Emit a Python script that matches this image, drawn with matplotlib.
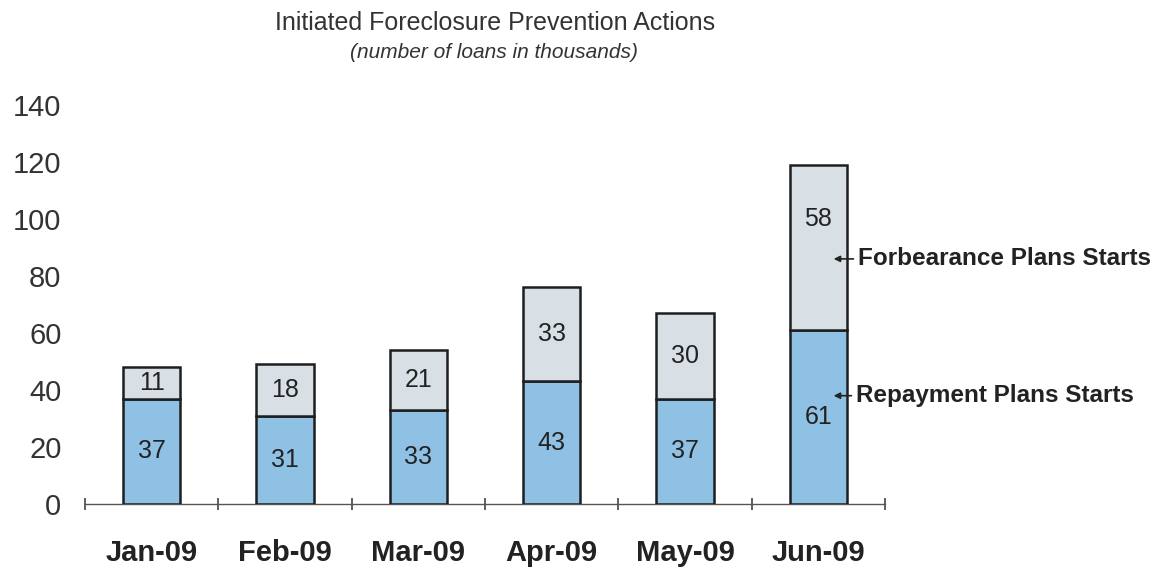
import matplotlib
matplotlib.use("Agg")
import matplotlib.pyplot as plt
import numpy as np

plt.rcParams['font.family'] = ['Liberation Sans', 'DejaVu Sans']

months = ["Jan-09", "Feb-09", "Mar-09", "Apr-09", "May-09", "Jun-09"]
repayment = [37, 31, 33, 43, 37, 61]
forbearance = [11, 18, 21, 33, 30, 58]
yticks = [0, 20, 40, 60, 80, 100, 120, 140]

fig = plt.figure(figsize=(11.7, 5.68), dpi=100)
ax = fig.add_axes([85/1170, 1-504/568, (885-85)/1170, (504-105)/568])

x = np.arange(len(months))
w = 0.43
c_rep = "#8fc1e4"
c_for = "#d8e0e5"
edge = "#1e1e1e"
ax.bar(x, repayment, width=w, color=c_rep, edgecolor=edge, linewidth=1.8, zorder=3)
ax.bar(x, forbearance, width=w, bottom=repayment, color=c_for, edgecolor=edge, linewidth=1.8, zorder=3)

for i in range(len(months)):
    ax.text(x[i], repayment[i]/2, str(repayment[i]), ha='center', va='center',
            fontsize=18, color='#222222', zorder=4)
    yt = repayment[i] + forbearance[i]/2
    if i == len(months) - 1:
        yt += 10
    ax.text(x[i], yt, str(forbearance[i]), ha='center', va='center',
            fontsize=18, color='#222222', zorder=4)

ax.set_xlim(-0.5, len(months) - 0.5)
ax.set_ylim(0, 140)
ax.set_yticks(yticks)
ax.set_yticklabels([str(t) for t in yticks], fontsize=21, color='#333333')
ax.tick_params(axis='y', length=0, pad=17)

ax.set_xticks(x)
ax.set_xticklabels(months, fontsize=21, fontweight='bold', color='#222222')
ax.tick_params(axis='x', length=0, pad=25)
ax.set_xticks(np.arange(len(months) + 1) - 0.5, minor=True)
ax.tick_params(axis='x', which='minor', length=8, direction='inout', width=1.2, color='#444444')

for s in ['top', 'right', 'left']:
    ax.spines[s].set_visible(False)
ax.spines['bottom'].set_color('#555555')
ax.spines['bottom'].set_linewidth(1.0)

last = len(months) - 1
arrow_kw = dict(arrowstyle='-|>', color='#222222', lw=1.2, mutation_scale=9, shrinkA=1, shrinkB=0)
ax.annotate("Forbearance Plans Starts", xy=(x[last] + w/2 - 0.1, repayment[last] + forbearance[last]/2 - 4),
            xytext=(x[last] + w/2 + 0.08, repayment[last] + forbearance[last]/2 - 4),
            fontsize=17.5, fontweight='bold', color='#222222', va='center', ha='left',
            arrowprops=arrow_kw, annotation_clip=False, zorder=5)
ax.annotate("Repayment Plans Starts", xy=(x[last] + w/2 - 0.1, repayment[last]/2 + 7.5),
            xytext=(x[last] + w/2 + 0.065, repayment[last]/2 + 7.5),
            fontsize=17.5, fontweight='bold', color='#222222', va='center', ha='left',
            arrowprops=arrow_kw, annotation_clip=False, zorder=5)

fig.text(495/1170, 1-23/568, "Initiated Foreclosure Prevention Actions", ha='center', va='center',
         fontsize=18, color='#333333')
fig.text(494/1170, 1-52/568, "(number of loans in thousands)", ha='center', va='center',
         fontsize=15, style='italic', color='#333333')

fig.savefig("out.png", dpi=100, facecolor='white')
